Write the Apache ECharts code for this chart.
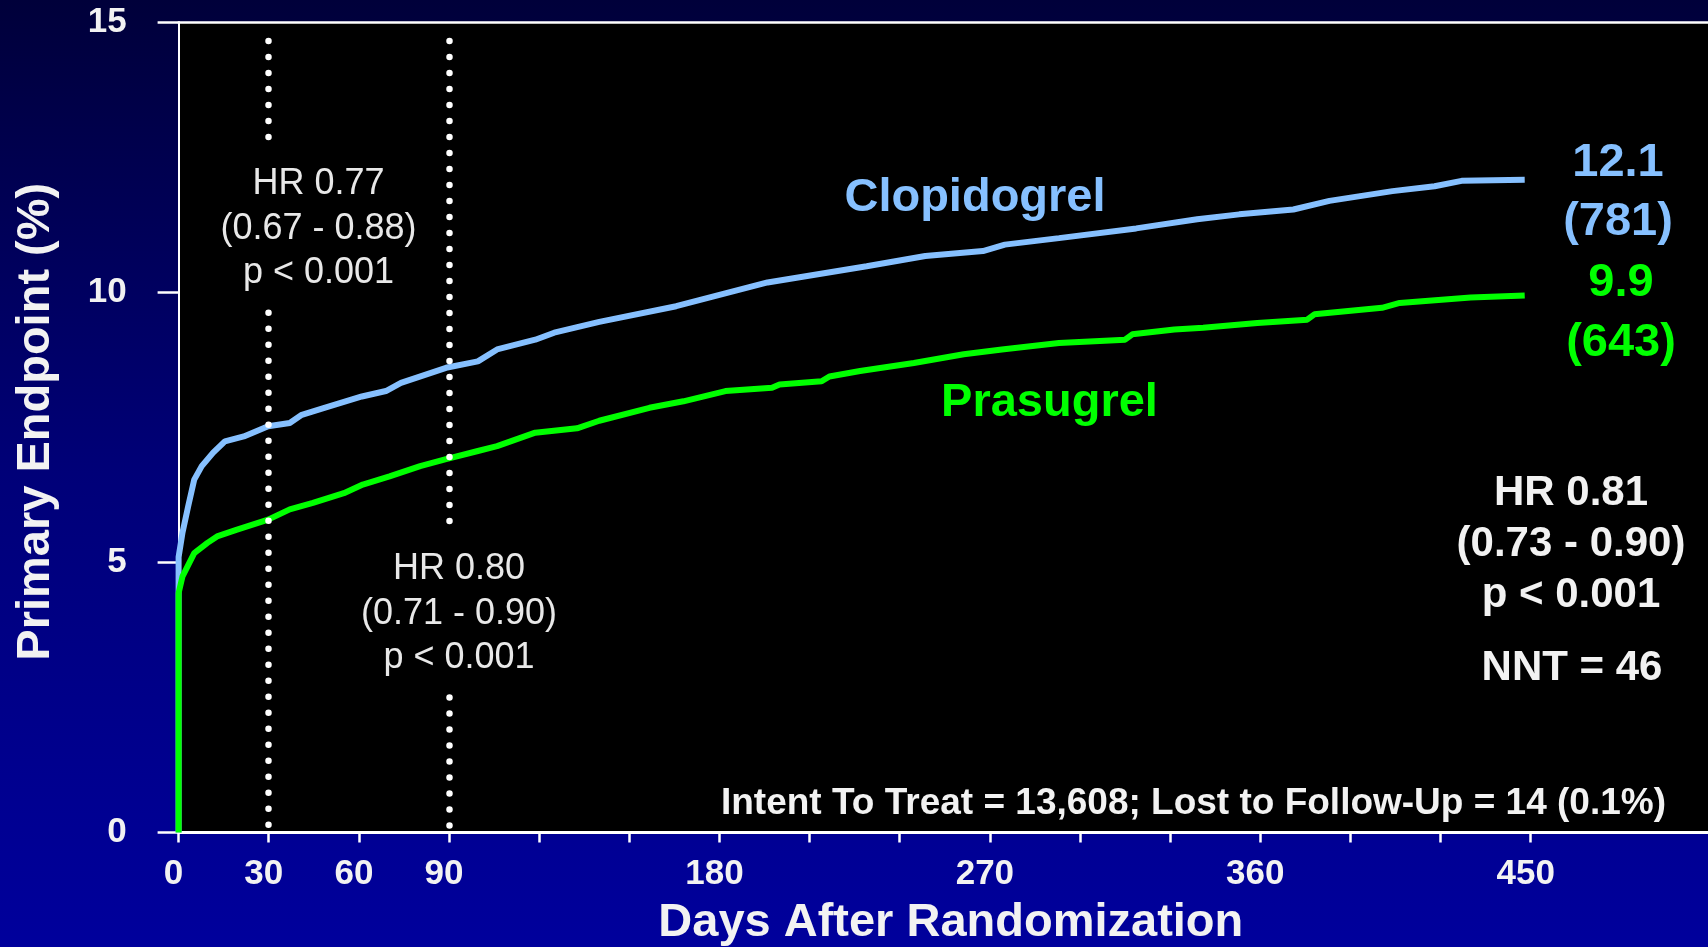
<!DOCTYPE html>
<html>
<head>
<meta charset="utf-8">
<title>Primary Endpoint - Days After Randomization</title>
<script src="https://cdn.jsdelivr.net/npm/echarts@6/dist/echarts.min.js"></script>
<style>
  html, body { margin: 0; padding: 0; background: #000060; }
  #chartBox { width: 1708px; height: 947px; }
</style>
</head>
<body>
<div id="chartBox"></div>
<script>
// KM curves: [day, % with primary endpoint]
const clopidogrel = [
  [0, 0], [0, 5.1], [1.3, 5.55], [3.2, 6.04], [5.2, 6.53], [7.7, 6.78], [11.5, 7.03],
  [15.4, 7.24], [21.7, 7.33], [29.8, 7.52], [37, 7.58], [41, 7.73], [48.5, 7.86],
  [61, 8.07], [69, 8.17], [74, 8.32], [89, 8.6], [99.6, 8.72], [106, 8.94],
  [118.7, 9.12], [125, 9.25], [140, 9.45], [165.6, 9.74], [196, 10.18], [229, 10.48],
  [248.5, 10.67], [267.7, 10.76], [275, 10.88], [293, 11.0], [318.7, 11.18],
  [339, 11.35], [353, 11.44], [371, 11.53], [383, 11.69], [404, 11.87], [418, 11.96],
  [427, 12.06], [448, 12.08]
];
const prasugrel = [
  [0, 0], [0, 4.43], [1.3, 4.74], [5.2, 5.17], [9.6, 5.36], [12.8, 5.48], [19.2, 5.6],
  [29.8, 5.79], [37, 5.98], [44.7, 6.1], [55, 6.28], [61.3, 6.44], [70.2, 6.59],
  [80.4, 6.78], [89, 6.91], [99.6, 7.06], [106, 7.15], [118.7, 7.4], [132.6, 7.48],
  [140, 7.62], [156.7, 7.86], [168, 7.98], [182, 8.17], [197.5, 8.23], [200, 8.29],
  [214, 8.35], [216.6, 8.44], [226.8, 8.54], [244.7, 8.69], [261.3, 8.85], [274, 8.94],
  [293, 9.06], [315, 9.12], [317.4, 9.22], [331.4, 9.31], [341, 9.34], [359, 9.43],
  [375.6, 9.49], [378, 9.59], [400.5, 9.71], [406.4, 9.8], [430, 9.9], [448, 9.94]
];

// axis ticks / labels
const tickDays = [0, 30, 60, 90, 120, 150, 180, 210, 240, 270, 300, 330, 360, 390, 420, 450];
const labelDays = [0, 30, 60, 90, 180, 270, 360, 450];
const yTicks = [0, 5, 10, 15];

// dotted landmark lines: [day, from %, to %] (split around the HR boxes)
const dottedSegments = [
  [30, 14.65, 12.87], [30, 9.62, 0.12],
  [90, 14.65, 5.75], [90, 2.5, 0.12]
];

// text blocks
const hr30 = 'HR 0.77\n(0.67 - 0.88)\np < 0.001';
const hr90 = 'HR 0.80\n(0.71 - 0.90)\np < 0.001';
const hrAll = 'HR 0.81\n(0.73 - 0.90)\np < 0.001';
const nnt = 'NNT = 46';
const clopEnd = '12.1\n(781)';
const prasEnd = '9.9\n(643)';
const footNote = 'Intent To Treat = 13,608; Lost to Follow-Up = 14 (0.1%)';

const FONT = '"Liberation Sans", Arial, Helvetica, sans-serif';
const BLUE = '#86c0ff';
const GREEN = '#00ff00';
const WHITE = '#f2f2f2';

let chart = echarts.init(document.getElementById('chartBox'));

function txt(text, x, y, size, color, weight, lineHeight) {
    return {
        type: 'text', x: x, y: y, silent: true, z: 100,
        style: {
            text: text, fill: color,
            font: (weight || 'normal') + ' ' + size + 'px ' + FONT,
            align: 'center', verticalAlign: 'middle',
            lineHeight: lineHeight || size
        }
    };
}

let option = {
    animation: false,
    backgroundColor: {
        type: 'linear', x: 0, y: 0, x2: 0, y2: 1,
        colorStops: [
            { offset: 0, color: '#00003a' },
            { offset: 0.5, color: '#000078' },
            { offset: 1, color: '#00009c' }
        ]
    },
    grid: {
        left: 178.6, right: 0, top: 22, bottom: 114.5,
        outerBoundsMode: 'none', containLabel: false,
        show: true, backgroundColor: '#000000', borderWidth: 0
    },
    xAxis: [{
        type: 'value', min: 0, max: 509, interval: 30,
        name: 'Days After Randomization',
        nameLocation: 'middle', nameGap: 67,
        nameTextStyle: {
            color: WHITE, fontSize: 47, fontWeight: 'bold', fontFamily: FONT,
            padding: [0, 0, 0, 15]
        },
        axisLine: { show: true, lineStyle: { color: '#ffffff', width: 3 } },
        axisTick: { show: true, length: 10, customValues: tickDays, lineStyle: { color: '#ffffff', width: 2.5 } },
        axisLabel: {
            customValues: labelDays, margin: 24, color: WHITE,
            fontSize: 35, fontWeight: 'bold', fontFamily: FONT, padding: [0, 10, 0, 0]
        },
        splitLine: { show: false }
    }, {
        // top border line of the plot
        type: 'value', position: 'top', min: 0, max: 509,
        axisLine: { show: true, onZero: false, lineStyle: { color: '#ffffff', width: 2.5 } },
        axisTick: { show: false }, axisLabel: { show: false }, splitLine: { show: false }
    }],
    yAxis: {
        type: 'value', min: 0, max: 15, interval: 5,
        name: 'Primary Endpoint (%)',
        nameLocation: 'middle', nameGap: 119,
        nameTextStyle: {
            color: WHITE, fontSize: 47, fontWeight: 'bold', fontFamily: FONT,
            padding: [0, 0, 0, 11]
        },
        axisLine: { show: true, lineStyle: { color: '#ffffff', width: 2 } },
        axisTick: { show: true, length: 21, customValues: yTicks, lineStyle: { color: '#ffffff', width: 2.5 } },
        axisLabel: { margin: 52, color: WHITE, fontSize: 35, fontWeight: 'bold', fontFamily: FONT },
        splitLine: { show: false }
    },
    series: [{
        name: 'Clopidogrel', type: 'line', data: clopidogrel,
        showSymbol: false, symbol: 'none', z: 2,
        lineStyle: { color: BLUE, width: 6 }
    }, {
        name: 'Prasugrel', type: 'line', data: prasugrel,
        showSymbol: false, symbol: 'none', z: 3,
        lineStyle: { color: GREEN, width: 6 },
        markLine: {
            silent: true, symbol: ['none', 'none'], z: 10,
            label: { show: false },
            lineStyle: { color: '#ffffff', width: 6.5, type: [0.1, 15.9], cap: 'round' },
            emphasis: { disabled: true },
            data: dottedSegments.map(function (s) {
                return [{ coord: [s[0], s[1]] }, { coord: [s[0], s[2]] }];
            })
        }
    }],
    graphic: [
        txt(hr30, 318.5, 229, 36, '#e8e8e8', 'normal', 44.5),
        txt(hr90, 459, 614, 36, '#e8e8e8', 'normal', 44.5),
        txt('Clopidogrel', 975, 198.5, 47, BLUE, 'bold'),
        txt('Prasugrel', 1049.5, 403, 47, GREEN, 'bold'),
        txt(clopEnd, 1618, 193, 47, BLUE, 'bold', 59),
        txt(prasEnd, 1621, 313, 47, GREEN, 'bold', 60),
        txt(hrAll, 1571, 544.5, 42, WHITE, 'bold', 51),
        txt(nnt, 1572, 668.5, 42, WHITE, 'bold'),
        txt(footNote, 1193.5, 803.5, 37, WHITE, 'bold')
    ]
};

chart.setOption(option);
</script>
</body>
</html>
